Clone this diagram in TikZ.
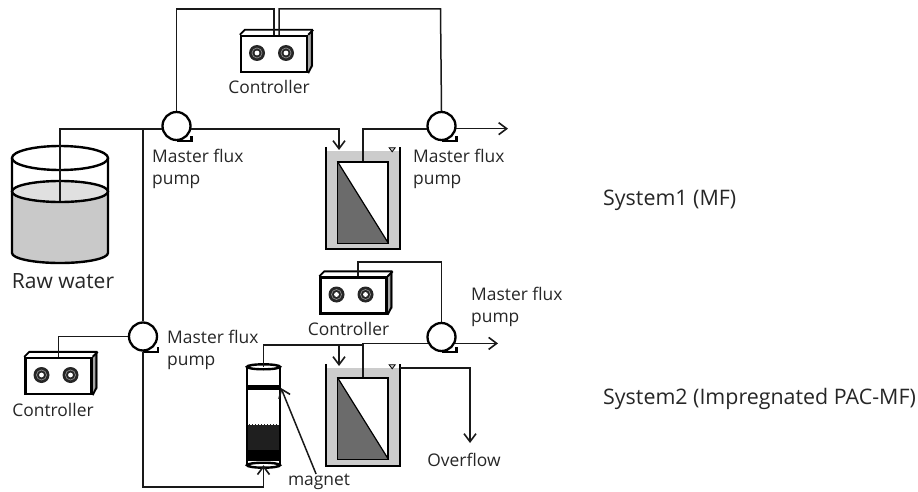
\documentclass[tikz,border=0pt]{standalone}
\usepackage{fontspec}
\setmainfont{Open Sans}
\usetikzlibrary{arrows.meta}
\tikzset{
  pipe/.style={draw=black!90,line width=1.5pt},
  flow/.style={pipe,-{Straight Barb[length=8pt,width=12pt,line width=1.6pt]}},
  wall/.style={draw=black,line width=2.4pt},
  pumpbody/.style={circle,draw=black,line width=2.3pt,fill=white,inner sep=0pt,minimum size=28pt},
  ctrlbox/.style={rectangle,draw=black,line width=2.4pt,fill=white,inner sep=0pt,minimum width=66pt,minimum height=36pt},
  tankbody/.style={rectangle,fill=black!20,inner sep=0pt,minimum width=74pt},
  membrane/.style={rectangle,draw=black,line width=1.2pt,fill=white,inner sep=0pt,minimum width=50pt,minimum height=81pt},
  lbl/.style={font=\fontsize{17.4}{22}\selectfont,text=black!85,inner sep=0pt,align=left},
  syslbl/.style={font=\fontsize{21.4}{24}\selectfont,text=black!85,inner sep=0pt,anchor=west}
}
% pump: name, position
\newcommand{\pumpat}[2]{
  \node[pumpbody] (#1) at (#2) {};
  \draw[wall,line width=2.3pt] (#1.south) -- ++(15,0) -- ++(0,-5);
}
% controller: name, position
\newcommand{\ctrlat}[2]{
  \fill[black!35] (#2) ++(33,-18) -- ++(6,-5) -- ++(0,36) -- ++(-6,5) -- cycle;
  \node[ctrlbox] (#1) at (#2) {};
  \draw[wall,line width=1.9pt] (#1.north west) -- ++(5,-5) -- ++(67,0) -- ++(0,36) -- (#1.south east);
  \draw[wall,line width=1.9pt] (#1.north east) -- ++(5,-5);
  \fill[black!85] (#1.center) ++(-17,-1) circle (8pt);
  \fill[black!85] (#1.center) ++(12,-1) circle (8pt);
  \draw[black!45,line width=.7pt] (#1.center) ++(-17,-1) circle (5pt);
  \draw[black!45,line width=.7pt] (#1.center) ++(12,-1) circle (5pt);
  \fill[white] (#1.center) ++(-17,-1) circle (2.4pt);
  \fill[white] (#1.center) ++(12,-1) circle (2.4pt);
}
% tank with membrane: tank name, membrane name, tank centre, membrane centre, height
\newcommand{\tankat}[5]{
  \node[tankbody,minimum height=#5pt] (#1) at (#3) {};
  \node[membrane] (#2) at (#4) {};
  \fill[black!58] (#2.north west) -- (#2.south east) -- (#2.south west) -- cycle;
  \draw[line width=1.2pt] (#2.north west) rectangle (#2.south east);
  \draw[line width=1.2pt] (#2.north west) -- (#2.south east);
  \draw[wall] (#1.north west) ++(0,-4) -- (#1.south west) -- (#1.south east) -- ++(0,-#5) -- ++(0,-4);
  \draw[line width=.8pt,fill=black!20] (#1.north east) ++(-11,-3) -- ++(6,0) -- ++(-3,4) -- cycle;
}
\begin{document}
\begin{tikzpicture}[x=1pt,y=-1pt]
    \useasboundingbox (0,0) rectangle (918,492);

    % Raw water
    \fill[black!21] (12,191.5) -- (12,253) arc[start angle=180,end angle=360,x radius=48pt,y radius=10pt] -- (108,191.5) -- cycle;
    \draw[wall,fill=black!12] (60,191.5) ellipse (48pt and 10.5pt);
    \draw[wall] (60,158) ellipse (48pt and 12pt);
    \draw[wall] (12,158) -- (12,253) arc[start angle=180,end angle=360,x radius=48pt,y radius=10pt] -- (108,158);
    \coordinate (R) at (60,201);

    % Pumps
    \pumpat{PA}{176.5,126}
    \pumpat{PB}{441.5,126}
    \pumpat{PC}{143,336.5}
    \pumpat{PD}{441.5,337}

    % Controllers
    \ctrlat{CA}{274,54}
    \ctrlat{CB}{58.5,376}
    \ctrlat{CC}{353.5,295.5}

    % Tanks
    \tankat{TA}{MA}{363,200}{363,202.5}{98}
    \tankat{TB}{MB}{363,417}{363,418.5}{98}

    % Column
    \node[rectangle,fill=white,inner sep=0pt,minimum width=33pt,minimum height=98pt] (K) at (263.5,416) {};
    \fill[black] (K.west |- 0,385) rectangle (K.east |- 0,390);
    \fill[black!88] (K.west |- 0,424) rectangle (K.east |- 0,450);
    \fill[black] (K.west |- 0,450) rectangle (K.east |- 0,461);
    \draw[white,densely dotted,line width=.5pt] (K.west |- 0,424) -- (K.east |- 0,424);
    \draw[wall] (K.north west) -- (K.south west);
    \draw[wall] (K.north east) -- (K.south east);
    \draw[wall,fill=white] (K.north) ellipse (16.5pt and 2.5pt);
    \draw[wall,fill=white] (K.south) ellipse (16.5pt and 2.5pt);

    % Labels
    \node[lbl,anchor=west] (LA) at (152,169) {Master flux\\pump};
    \node[lbl,anchor=west] (LB) at (413,169) {Master flux\\pump};
    \node[lbl,anchor=west] (LC) at (167,350) {Master flux\\pump};
    \node[lbl,anchor=west] (LD) at (471,306.5) {Master flux\\pump};
    \node[lbl] (LE) at (269,87) {Controller};
    \node[lbl] (LF) at (53,410) {Controller};
    \node[lbl] (LG) at (348.5,329) {Controller};
    \node[lbl] (LH) at (319,482) {magnet};
    \node[lbl] (LI) at (464,460) {Overflow};
    \node[lbl,font=\fontsize{21}{24}\selectfont] (LJ) at (63,281) {Raw water};
    \node[syslbl] (SA) at (603,200.5) {System1 (MF)};
    \node[syslbl] (SB) at (603,398.5) {System2 (Impregnated PAC-MF)};

    % Free ends
    \coordinate (J) at (143,129);
    \coordinate (WA) at (274,9);
    \coordinate (WB) at (440.5,9);
    \coordinate (WC) at (441.5,262);
    \coordinate (OA) at (508,129);
    \coordinate (OB) at (498,343);
    \coordinate (OC) at (470,443);
    \coordinate (OD) at (263.5,487);
    \coordinate (KB) at (281,388);
    \coordinate (QA) at (339,150);
    \coordinate (QB) at (339,366);
    \coordinate (QC) at (363,345);

    % Pipes
    \draw[pipe] (R) |- (PA.192);
    \draw[pipe] (J) -- (PC.north);
    \draw[pipe] (PA.north) |- (WA) -- (CA.north);
    \draw[pipe] ([xshift=5pt]CA.north) |- (WB) -- (PB.north);
    \draw[pipe] (CB.north) |- (PC.west);
    \draw[pipe] ([xshift=4.5pt]CC.north) |- (WC) -- (PD.north);
    \draw[flow] (PA.-12) -| (QA);
    \draw[pipe] (PB.192) -| (MA.north);
    \draw[flow] (PB.-10) -- (PB.-10 -| OA);
    \draw[pipe] (PD.205) -| (MB.north);
    \draw[flow] (PD.-25) -- (PD.-25 -| OB);
    \draw[flow] (TB.north east) -| (OC);
    \draw[pipe] (PC.south) |- (OD);
    \draw[flow] (OD) -- (K.south);
    \draw[pipe] (K.north) |- (QC);
    \draw[flow] (K.north |- QC) -| (QB);
    \draw[flow] (LH.110) -- (KB);
\end{tikzpicture}
\end{document}
